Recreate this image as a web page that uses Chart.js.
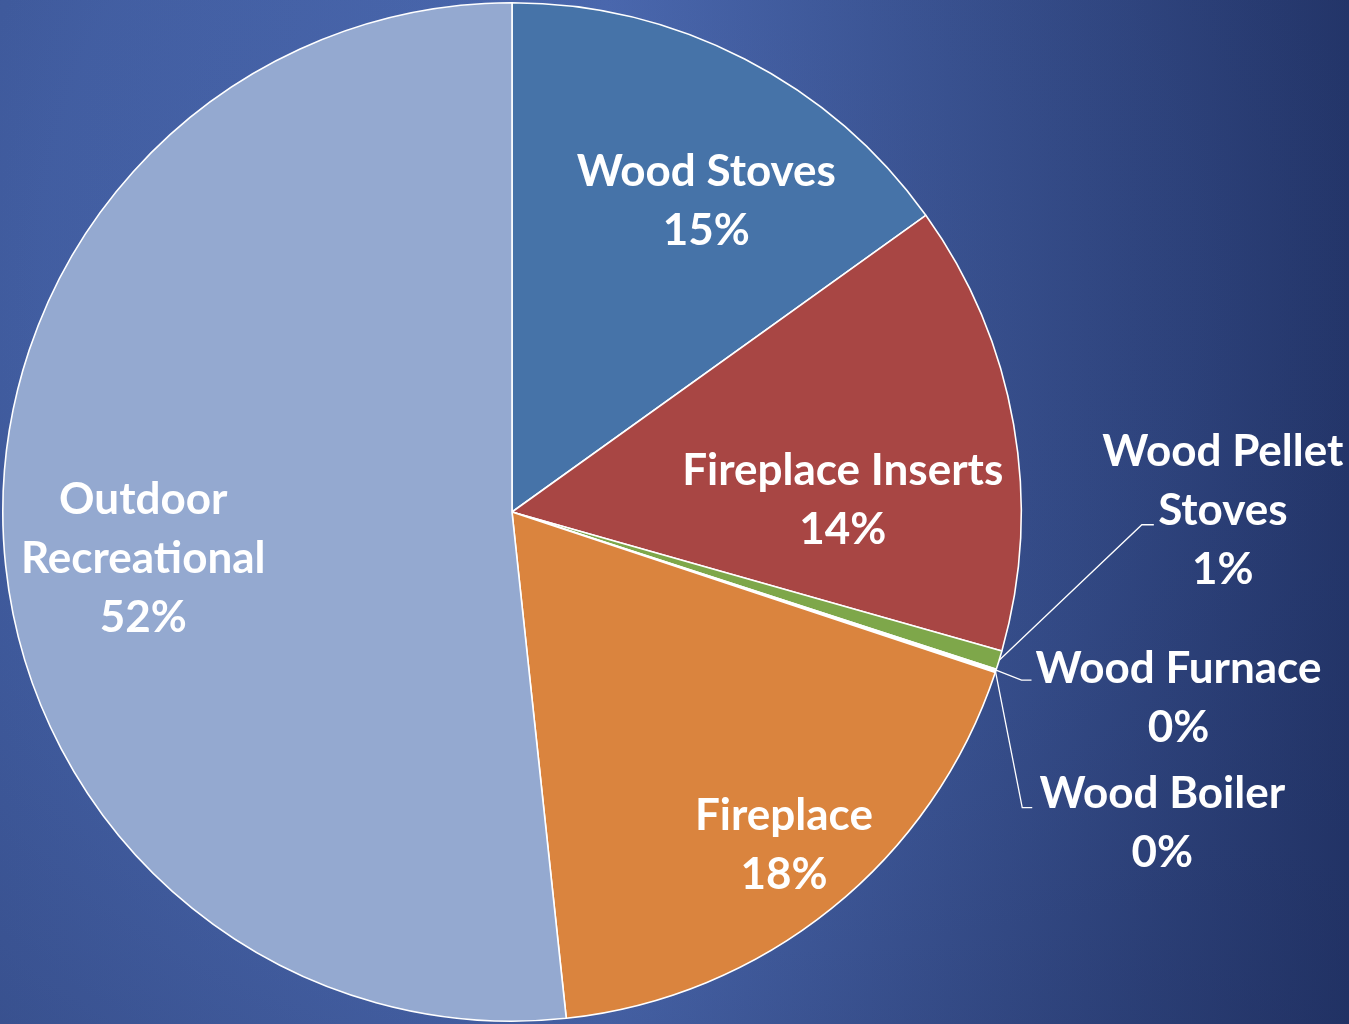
<!DOCTYPE html>
<html>
<head>
<meta charset="utf-8">
<script src="https://cdn.jsdelivr.net/npm/chart.js@4.4.1/dist/chart.umd.min.js"></script>
<style>
  html, body { margin: 0; padding: 0; background: #3a5396; overflow: hidden; }
  #wrap { width: 1349px; height: 1024px; }
</style>
</head>
<body>
<div id="wrap"><canvas id="pie" width="1349" height="1024"></canvas></div>
<script>
// data (percent of total)
const categories = ['Wood Stoves', 'Fireplace Inserts', 'Wood Pellet Stoves', 'Wood Furnace', 'Wood Boiler', 'Fireplace', 'Outdoor Recreational'];
const shares = [15.1, 14.3, 0.6, 0.05, 0.05, 18.2, 51.7];
const labelLines = [['Wood Stoves'], ['Fireplace Inserts'], ['Wood Pellet', 'Stoves'], ['Wood Furnace'], ['Wood Boiler'], ['Fireplace'], ['Outdoor', 'Recreational']];
const sliceColors = ['#4673a8', '#a84644', '#7ea74a', '#7a5fa0', '#3c9bb3', '#da843e', '#94a9d0'];

// where each label sits: polar (deg from top, fraction of radius); outside ones get a leader
const labelPlace = [
  { a: 32, r: 0.72 },
  { a: 87.9, r: 0.65 },
  { a: 89.9, r: 1.396, lead: { ex: -69, ey: 14, len: 12 } },
  { a: 105.6, r: 1.359, lead: { ex: -147, ey: -18, len: 10 } },
  { a: 115.6, r: 1.416, lead: { ex: -130, ey: -16, len: 10 } },
  { a: 140.8, r: 0.845 },
  { a: 262.7, r: 0.73 }
];

const FONT = 'bold 44px Lato, "Open Sans", sans-serif';
const LINE_H = 59;

const background = {
  id: 'background',
  beforeDraw(chart) {
    const { ctx, width, height } = chart;
    ctx.save();
    const lin = ctx.createLinearGradient(0, 0, width, 0);
    lin.addColorStop(0, '#4461a6');
    lin.addColorStop(0.45, '#4b69b0');
    lin.addColorStop(1, '#26396f');
    ctx.fillStyle = lin;
    ctx.fillRect(0, 0, width, height);
    const rad = ctx.createRadialGradient(620, 280, 0, 620, 280, 1150);
    rad.addColorStop(0, 'rgba(20,30,70,0)');
    rad.addColorStop(0.5, 'rgba(20,30,70,0.06)');
    rad.addColorStop(1, 'rgba(20,30,70,0.32)');
    ctx.fillStyle = rad;
    ctx.fillRect(0, 0, width, height);
    ctx.restore();
  }
};

const sliceLabels = {
  id: 'sliceLabels',
  afterDatasetsDraw(chart) {
    const { ctx } = chart;
    const meta = chart.getDatasetMeta(0);
    const total = shares.reduce((s, v) => s + v, 0);
    ctx.save();
    ctx.font = FONT;
    ctx.fillStyle = '#ffffff';
    ctx.textAlign = 'center';
    ctx.textBaseline = 'middle';
    meta.data.forEach((arc, i) => {
      const { x, y, outerRadius, startAngle, endAngle } = arc.getProps(['x', 'y', 'outerRadius', 'startAngle', 'endAngle'], true);
      const p = labelPlace[i];
      const ang = (p.a - 90) * Math.PI / 180;
      const cx = x + Math.cos(ang) * p.r * outerRadius;
      const cy = y + Math.sin(ang) * p.r * outerRadius;
      const lines = labelLines[i].concat([Math.round(shares[i] / total * 100) + '%']);
      const top = cy - (lines.length - 1) * LINE_H / 2;
      lines.forEach((t, k) => ctx.fillText(t, cx, top + k * LINE_H));

      if (p.lead) {
        const mid = (startAngle + endAngle) / 2;
        const sx = x + Math.cos(mid) * outerRadius;
        const sy = y + Math.sin(mid) * outerRadius;
        const exx = cx + p.lead.ex;
        const eyy = cy + p.lead.ey;
        ctx.strokeStyle = '#ffffff';
        ctx.lineWidth = 1.3;
        ctx.beginPath();
        ctx.moveTo(sx, sy);
        ctx.lineTo(exx - p.lead.len, eyy);
        ctx.lineTo(exx, eyy);
        ctx.stroke();
      }
    });
    ctx.restore();
  }
};

new Chart(document.getElementById('pie'), {
  type: 'pie',
  data: {
    labels: categories,
    datasets: [{
      data: shares,
      backgroundColor: sliceColors,
      borderColor: '#ffffff',
      borderWidth: 1.6
    }]
  },
  options: {
    responsive: false,
    animation: false,
    layout: { padding: { left: 2, top: 2, bottom: 2, right: 327 } },
    plugins: {
      legend: { display: false },
      tooltip: { enabled: false }
    }
  },
  plugins: [background, sliceLabels]
});
</script>
</body>
</html>
